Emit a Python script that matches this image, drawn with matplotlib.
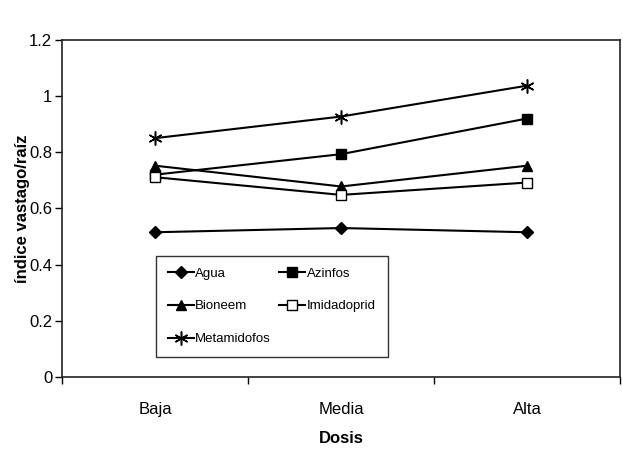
import matplotlib.pyplot as plt
from matplotlib import font_manager

# fonts: narrow Arial-like face when it exists
names = {f.name for f in font_manager.fontManager.ttflist}
family = ['Liberation Sans Narrow'] if 'Liberation Sans Narrow' in names else ['Liberation Sans']
plt.rcParams['font.family'] = family + ['DejaVu Sans']

# data
dosis = ['Baja', 'Media', 'Alta']
agua = [0.515, 0.53, 0.515]
azinfos = [0.72, 0.793, 0.92]
bioneem = [0.752, 0.678, 0.752]
imidacloprid = [0.711, 0.648, 0.692]
metamidofos = [0.85, 0.927, 1.037]

series = [
    ('Agua', agua, dict(marker='D', ms=6, mfc='black')),
    ('Azinfos', azinfos, dict(marker='s', ms=7, mfc='black')),
    ('Bioneem', bioneem, dict(marker='^', ms=7, mfc='black')),
    ('Imidadoprid', imidacloprid, dict(marker='s', ms=7, mfc='white')),
    ('Metamidofos', metamidofos, dict(marker=(6, 2, 0), ms=10, mew=1.1)),
]

fig = plt.figure(figsize=(6.23, 4.53), dpi=100)
ax = fig.add_axes([0.0995, 0.168, 0.896, 0.744])

x = list(range(len(dosis)))
lines = {}
for name, vals, style in series:
    lines[name], = ax.plot(x, vals, color='black', lw=1.5, mec='black', label=name, **style)

ax.set_xlim(-0.5, len(dosis) - 0.5)
ax.set_ylim(0, 1.2)
ax.set_yticks([0, 0.2, 0.4, 0.6, 0.8, 1.0, 1.2])
ax.set_yticklabels(['0', '0.2', '0.4', '0.6', '0.8', '1', '1.2'], fontsize=12)

# category labels centred, tick marks on the boundaries
ax.set_xticks(x)
ax.set_xticklabels(dosis, fontsize=12)
ax.tick_params(axis='x', which='major', length=0, pad=18)
ax.set_xticks([-0.5, 0.5, 1.5, 2.5], minor=True)
ax.tick_params(axis='x', which='minor', length=5, width=1, direction='out')
ax.tick_params(axis='y', length=5, width=1, direction='out', pad=2)

for s in ax.spines.values():
    s.set_linewidth(1.2)
    s.set_color('#222222')

ax.set_xlabel('Dosis', fontsize=12, fontweight='bold', labelpad=10)
ax.set_ylabel('índice vastago/raíz', fontsize=12, fontweight='bold')
ax.yaxis.set_label_coords(-0.057, 0.5)

# legend filled row by row: two columns
order = ['Agua', 'Bioneem', 'Metamidofos', 'Azinfos', 'Imidadoprid']
leg = ax.legend([lines[n] for n in order], order, ncol=2, loc='lower left',
                bbox_to_anchor=(0.168, 0.059), fontsize=9.5, frameon=True,
                fancybox=False, handlelength=2.0, handletextpad=0.1,
                columnspacing=0.6, labelspacing=1.55, borderpad=0.9,
                borderaxespad=0)
leg.get_frame().set_edgecolor('black')
leg.get_frame().set_linewidth(1)

fig.savefig('out.png', dpi=100)
